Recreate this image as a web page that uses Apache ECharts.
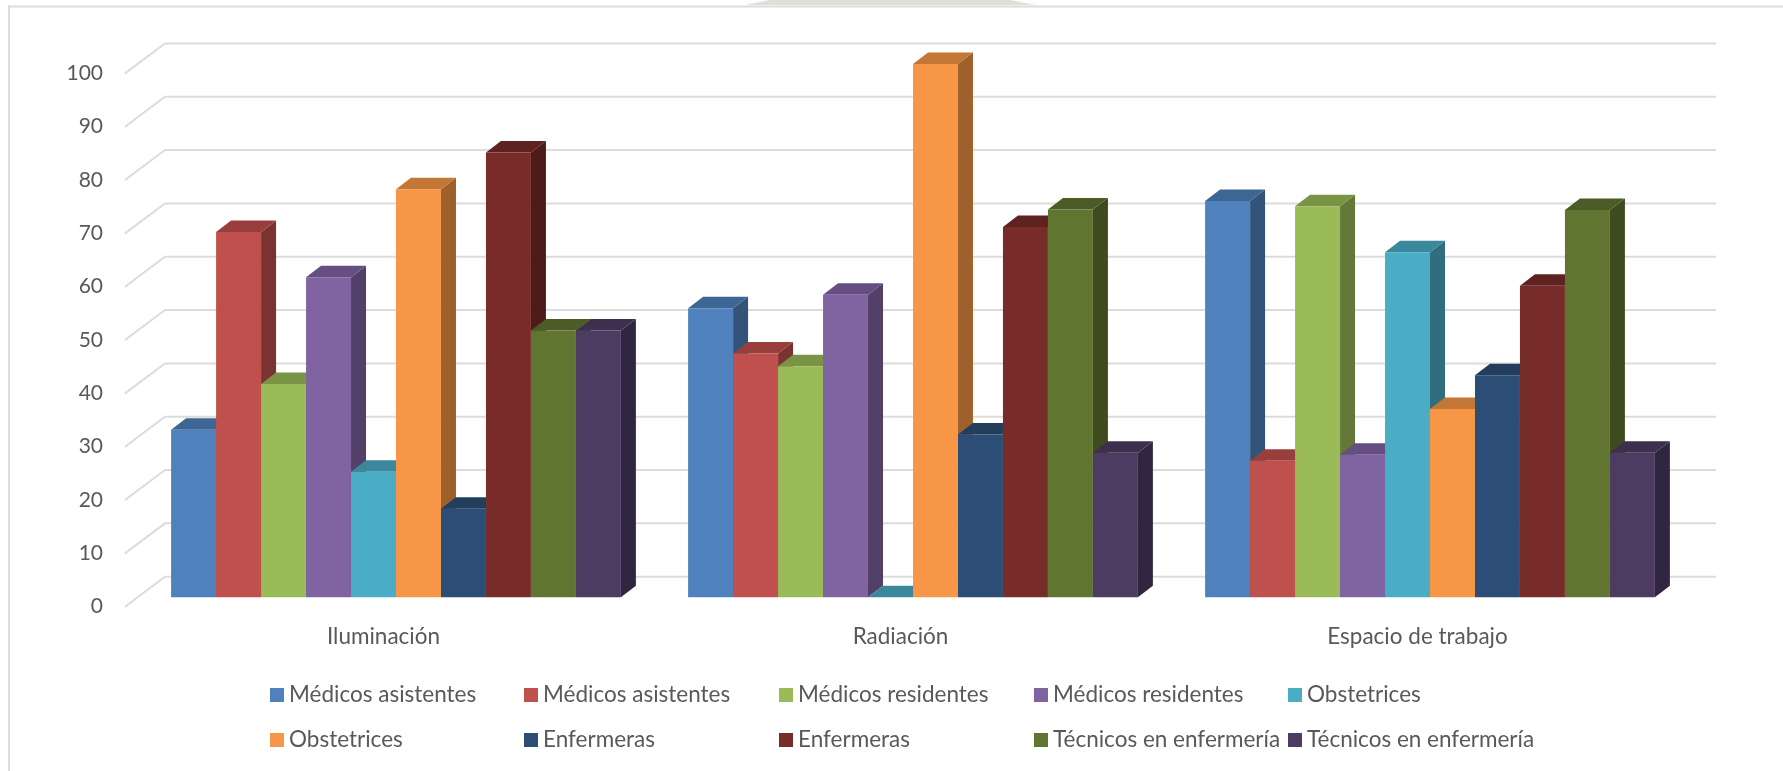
<!DOCTYPE html>
<html lang="es">
<head>
<meta charset="utf-8">
<title>Condiciones por grupo ocupacional</title>
<style>
  html, body { margin: 0; padding: 0; background: #fff; }
  #chart { width: 1783px; height: 771px; }
</style>
<script src="https://cdn.jsdelivr.net/npm/echarts@6/dist/echarts.min.js"></script>
</head>
<body>
<div id="chart"></div>
<script>
const categories = ['Iluminación', 'Radiación', 'Espacio de trabajo'];
const valueTicks = [0, 10, 20, 30, 40, 50, 60, 70, 80, 90, 100];

const seriesNames = [
  'Médicos asistentes', 'Médicos asistentes',
  'Médicos residentes', 'Médicos residentes',
  'Obstetrices', 'Obstetrices',
  'Enfermeras', 'Enfermeras',
  'Técnicos en enfermería', 'Técnicos en enfermería'
];
const seriesColors = [
  '#4F81BD', '#C0504D', '#9BBB59', '#8064A2', '#4BACC6',
  '#F79646', '#2C4D75', '#772C2A', '#5F7530', '#4D3B62'
];

const medicosAsistentesA = [31.4, 54.2, 74.3];
const medicosAsistentesB = [68.5, 45.7, 25.6];
const medicosResidentesA = [40.0, 43.3, 73.3];
const medicosResidentesB = [60.0, 56.7, 26.7];
const obstetricesA = [23.5, 0, 64.7];
const obstetricesB = [76.5, 100, 35.3];
const enfermerasA = [16.6, 30.5, 41.6];
const enfermerasB = [83.4, 69.4, 58.4];
const tecnicosA = [50, 72.7, 72.6];
const tecnicosB = [50, 27.1, 27.1];
const seriesValues = [
  medicosAsistentesA, medicosAsistentesB,
  medicosResidentesA, medicosResidentesB,
  obstetricesA, obstetricesB,
  enfermerasA, enfermerasB,
  tecnicosA, tecnicosB
];

// Legend layout: five columns, two rows
const legendColumns = [270, 524, 779, 1034, 1288];
const legendRows = [693.5, 738.5];

// Oblique projection of the chart's depth
const WALL_DX = 40, WALL_DY = 30;    // front plane to back wall
const BAR_DX = 15, BAR_DY = 11.5;    // depth of one bar
const GROUP_FILL = 0.87;             // share of a category band taken by its bars

function shade(hex, factor) {
  const n = parseInt(hex.slice(1), 16);
  const c = [n >> 16 & 255, n >> 8 & 255, n & 255].map(v => Math.round(v * factor));
  return 'rgb(' + c.join(',') + ')';
}

// Back-wall gridline with its slanted run to the front plane
function renderGridLine(params, api) {
  const area = params.coordSys;
  const y = api.coord([0, api.value(0)])[1];
  return {
    type: 'polyline',
    silent: true,
    shape: { points: [
      [area.x, y],
      [area.x + WALL_DX, y - WALL_DY],
      [area.x + area.width + WALL_DX, y - WALL_DY]
    ] },
    style: { stroke: '#DCDCDC', lineWidth: 2, fill: null }
  };
}

// One 3D bar: front, top and right faces
function makeBarRenderer(index) {
  const color = seriesColors[index];
  const top = shade(color, 0.79);
  const side = shade(color, 0.64);
  return function (params, api) {
    const band = api.size([1, 0])[0];
    const width = band * GROUP_FILL / seriesNames.length;
    const center = api.coord([api.value(0), 0])[0];
    const baseY = api.coord([api.value(0), 0])[1] - 9.5;
    const topY = baseY - (api.coord([0, 0])[1] - api.coord([0, api.value(1)])[1]);
    const x0 = center + (WALL_DX - BAR_DX) / 2 - band * GROUP_FILL / 2 + index * width;
    const x1 = x0 + width;
    const poly = (points, fill) => ({
      type: 'polygon', shape: { points }, style: { fill, stroke: null }
    });
    return {
      type: 'group',
      children: [
        poly([[x1, topY], [x1 + BAR_DX, topY - BAR_DY], [x1 + BAR_DX, baseY - BAR_DY], [x1, baseY]], side),
        poly([[x0, topY], [x0 + BAR_DX, topY - BAR_DY], [x1 + BAR_DX, topY - BAR_DY], [x1, topY]], top),
        poly([[x0, topY], [x1, topY], [x1, baseY], [x0, baseY]], color)
      ]
    };
  };
}

const frameSeries = {
  type: 'custom',
  name: 'Cuadrícula',
  data: valueTicks.map(v => [v]),
  encode: { y: 0 },
  renderItem: renderGridLine,
  silent: true,
  z: 1
};

const barSeries = seriesNames.map((name, i) => ({
  type: 'custom',
  name,
  data: categories.map((_, c) => [c, seriesValues[i][c]]),
  encode: { x: 0, y: 1 },
  itemStyle: { color: seriesColors[i] },
  renderItem: makeBarRenderer(i),
  z: 2
}));

const legends = seriesNames.map((name, i) => ({
  left: legendColumns[i % 5],
  top: legendRows[Math.floor(i / 5)] - 10,
  itemWidth: 14,
  itemHeight: 14,
  itemGap: 0,
  icon: 'rect',
  selectedMode: false,
  padding: 0,
  textStyle: { fontFamily: 'Lato', fontSize: 22.5, color: '#595959' },
  data: [{ name, itemStyle: { color: seriesColors[i] } }]
}));

const chart = echarts.init(document.getElementById('chart'), null, { renderer: 'canvas' });
chart.setOption({
  animation: false,
  backgroundColor: '#fff',
  textStyle: { fontFamily: 'Lato' },
  grid: { left: 125, top: 73.4, width: 1551, height: 533.3 },
  xAxis: {
    type: 'category',
    data: categories,
    axisLine: { show: false },
    axisTick: { show: false },
    axisLabel: { margin: 19, fontFamily: 'Lato', fontSize: 22.5, color: '#595959' }
  },
  yAxis: {
    type: 'value',
    min: 0,
    max: 100,
    interval: 10,
    axisLine: { show: false },
    axisTick: { show: false },
    splitLine: { show: false },
    axisLabel: { margin: 22, fontFamily: 'Lato', fontSize: 21, color: '#595959' }
  },
  legend: legends,
  series: [frameSeries].concat(barSeries),
  graphic: [{
    type: 'polyline',
    silent: true,
    shape: { points: [[9, 771], [9, 6.5], [1783, 6.5]] },
    style: { stroke: '#DCDCDC', lineWidth: 2, fill: null }
  }, {
    // Faint crest showing above the top rule
    type: 'polygon',
    silent: true,
    shape: { points: [[745, 5], [770, 0], [1010, 0], [1035, 5]] },
    style: { fill: '#DDE1D6' }
  }]
});
</script>
</body>
</html>
